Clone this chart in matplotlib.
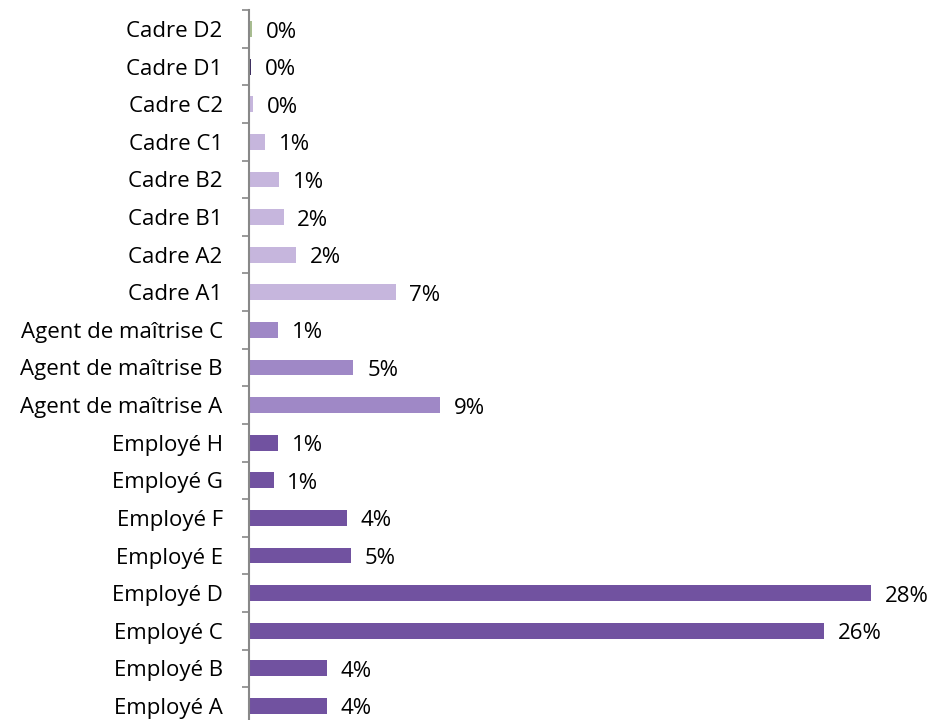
import matplotlib.pyplot as plt
import numpy as np

plt.rcParams['font.family'] = ['Open Sans', 'DejaVu Sans']

categories = ["Employé A", "Employé B", "Employé C", "Employé D", "Employé E",
              "Employé F", "Employé G", "Employé H",
              "Agent de maîtrise A", "Agent de maîtrise B", "Agent de maîtrise C",
              "Cadre A1", "Cadre A2", "Cadre B1", "Cadre B2", "Cadre C1",
              "Cadre C2", "Cadre D1", "Cadre D2"]
values = [3.5, 3.5, 25.9, 28.0, 4.6, 4.4, 1.1, 1.3,
          8.6, 4.7, 1.3,
          6.6, 2.1, 1.55, 1.35, 0.72, 0.18, 0.09, 0.14]
colors = ["#7152a0"] * 8 + ["#9f88c6"] * 3 + ["#c6b6dd"] * 6 + ["#3c2d60", "#a8bd90"]

fig = plt.figure(figsize=(9.33, 7.2), dpi=100)
ax = fig.add_axes([0.267, -0.0066, 0.714, 0.9924])

y = np.arange(len(categories))
ax.barh(y, values, height=0.42, color=colors)

for yi, v in zip(y, values):
    ax.text(v + 0.62, yi - 0.08, f"{v:.0f}%", va='center', ha='left', fontsize=16)

ax.set_yticks(y)
ax.set_yticklabels(categories, fontsize=16)
ax.set_yticks(np.arange(-0.5, len(categories), 1), minor=True)
ax.tick_params(axis='y', which='major', length=0, pad=19)
ax.tick_params(axis='y', which='minor', length=5, color='#888888', width=1.2)
ax.set_ylim(-0.5, len(categories) - 0.5)
ax.set_xlim(0, 30)

ax.set_xticks([])
for s in ['top', 'right', 'bottom']:
    ax.spines[s].set_visible(False)
ax.spines['left'].set_color('#888888')
ax.spines['left'].set_linewidth(1.5)

fig.savefig('out.png', dpi=100)
